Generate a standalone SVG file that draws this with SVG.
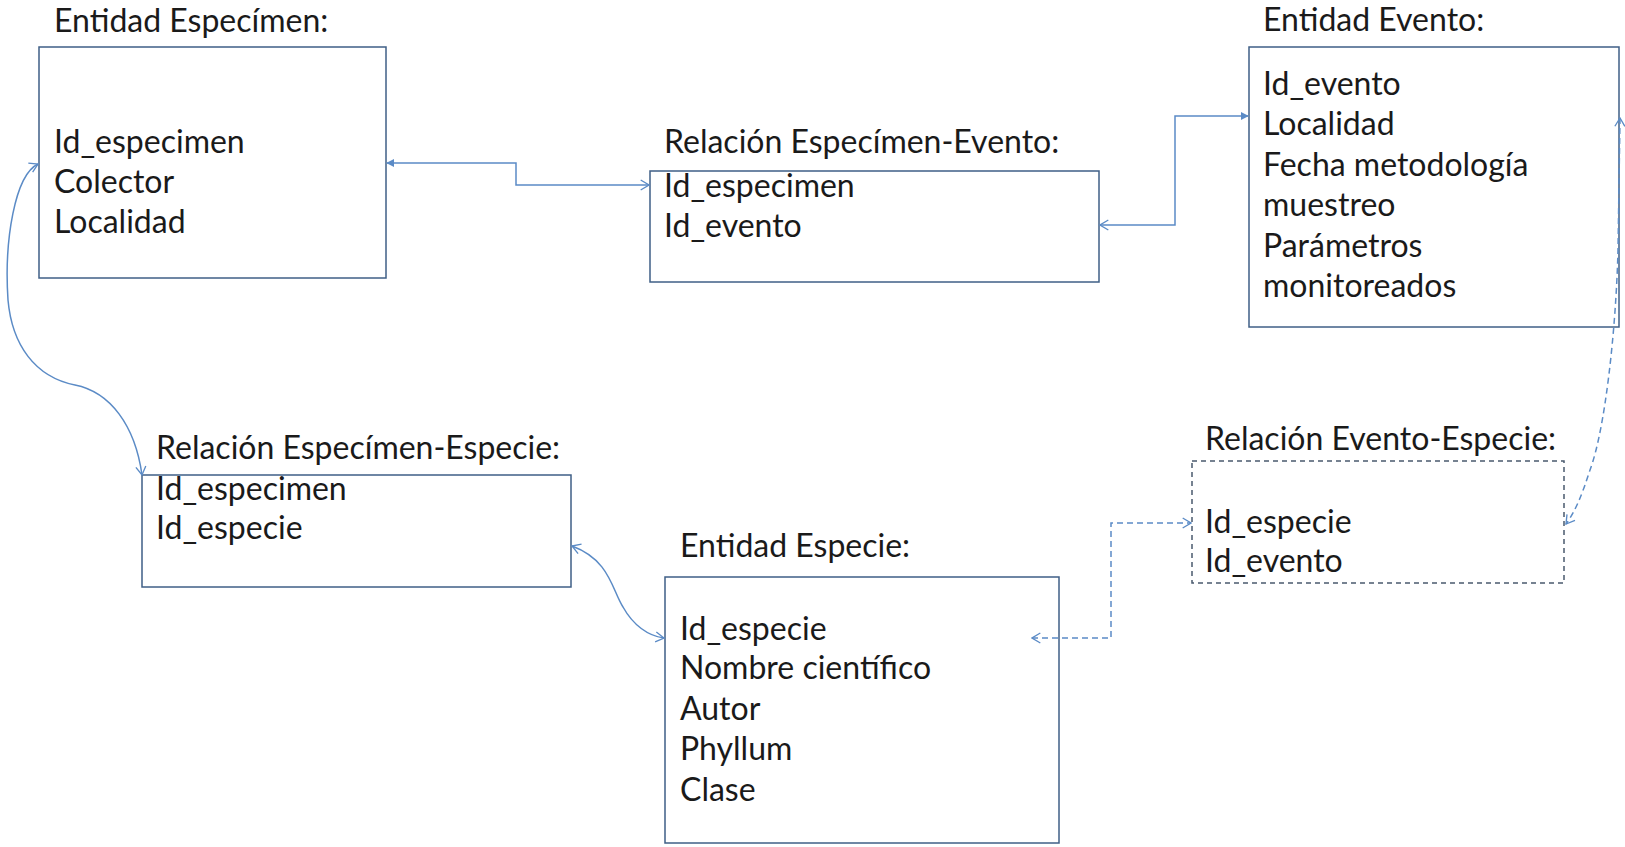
<svg xmlns="http://www.w3.org/2000/svg" width="1625" height="847" viewBox="0 0 1625 847">
<style>
  text { font-family: Lato, "Open Sans", "Liberation Sans", sans-serif; font-size: 32px; fill: #1a1a1a; }
  .box { fill: #ffffff; stroke: #3f5f86; stroke-width: 1.5; }
  .dbox { fill: #ffffff; stroke: #4a5a6e; stroke-width: 1.5; stroke-dasharray: 5 4; }
  .con { fill: none; stroke: #5b8bc6; stroke-width: 1.5; }
  .dash { stroke-dasharray: 6 4; }
</style>
<defs>
  <marker id="tri" viewBox="0 0 10 10" refX="9" refY="5" markerWidth="8" markerHeight="8" markerUnits="userSpaceOnUse" orient="auto-start-reverse">
    <path d="M0 0 L10 5 L0 10 Z" fill="#5b8bc6"/>
  </marker>
  <marker id="open" viewBox="0 0 12 14" refX="11" refY="7" markerWidth="10" markerHeight="13" markerUnits="userSpaceOnUse" orient="auto-start-reverse">
    <path d="M1 1 L11 7 L1 13" fill="none" stroke="#5b8bc6" stroke-width="1.6"/>
  </marker>
</defs>
<rect width="1625" height="847" fill="#ffffff"/>

<g id="entidad-especimen">
  <text x="54" y="32">Entidad Especímen:</text>
  <rect class="box" x="39" y="47" width="347" height="231"/>
  <text x="54" y="153">Id_especimen</text>
  <text x="54" y="193">Colector</text>
  <text x="54" y="233">Localidad</text>
</g>

<g id="relacion-especimen-evento">
  <text x="664" y="153">Relación Especímen-Evento:</text>
  <rect class="box" x="650" y="171" width="449" height="111"/>
  <text x="664" y="197">Id_especimen</text>
  <text x="664" y="237">Id_evento</text>
</g>

<g id="entidad-evento">
  <text x="1263" y="31">Entidad Evento:</text>
  <rect class="box" x="1249" y="47" width="370" height="280"/>
  <text x="1263" y="95">Id_evento</text>
  <text x="1263" y="135">Localidad</text>
  <text x="1263" y="176">Fecha metodología</text>
  <text x="1263" y="216">muestreo</text>
  <text x="1263" y="257">Parámetros</text>
  <text x="1263" y="297">monitoreados</text>
</g>

<g id="relacion-especimen-especie">
  <text x="156" y="459">Relación Especímen-Especie:</text>
  <rect class="box" x="142" y="475" width="429" height="112"/>
  <text x="156" y="500">Id_especimen</text>
  <text x="156" y="539">Id_especie</text>
</g>

<g id="entidad-especie">
  <text x="680" y="557">Entidad Especie:</text>
  <rect class="box" x="665" y="577" width="394" height="266"/>
  <text x="680" y="640">Id_especie</text>
  <text x="680" y="679">Nombre científico</text>
  <text x="680" y="720">Autor</text>
  <text x="680" y="760">Phyllum</text>
  <text x="680" y="801">Clase</text>
</g>

<g id="relacion-evento-especie">
  <text x="1205" y="450">Relación Evento-Especie:</text>
  <rect class="dbox" x="1192" y="461" width="372" height="122"/>
  <text x="1205" y="533">Id_especie</text>
  <text x="1205" y="572">Id_evento</text>
</g>

<g id="connectors">
  <path class="con" d="M 649 185 L 516 185 L 516 163 L 387 163" marker-start="url(#open)" marker-end="url(#tri)"/>
  <path class="con" d="M 1100 225 L 1175 225 L 1175 116 L 1248 116" marker-start="url(#open)" marker-end="url(#tri)"/>
  <path class="con" d="M 142 475 C 135 425, 110 392, 75 385 C 35 377, 12 345, 8 300 C 4 240, 15 175, 38 164" marker-start="url(#open)" marker-end="url(#open)"/>
  <path class="con" d="M 572 546 C 610 560, 612 590, 623 607 C 633 625, 648 636, 664 638" marker-start="url(#open)" marker-end="url(#open)"/>
  <path class="con dash" d="M 1032 638 L 1111 638 L 1111 523 L 1191 523" marker-start="url(#open)" marker-end="url(#open)"/>
  <path class="con dash" d="M 1620 118 L 1618 250 C 1616 330, 1605 430, 1590 470 C 1582 495, 1575 512, 1566 524" marker-start="url(#open)" marker-end="url(#open)"/>
</g>
</svg>
